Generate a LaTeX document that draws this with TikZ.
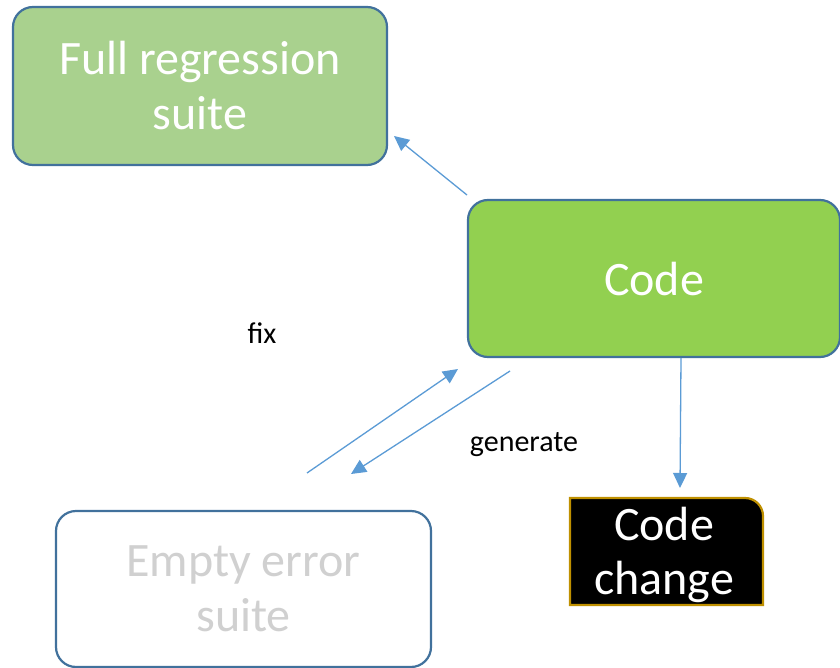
\documentclass[tikz,border=0pt]{standalone}
\usepackage{fontspec}
\setmainfont{Carlito}
\usetikzlibrary{arrows.meta}
\definecolor{boxline}{HTML}{41719C}
\definecolor{lightgreen}{HTML}{A9D18E}
\definecolor{brightgreen}{HTML}{92D050}
\definecolor{arrowblue}{HTML}{5B9BD5}
\definecolor{gold}{HTML}{BF9000}
\definecolor{fadedtext}{HTML}{D0D0D0}
\tikzset{
  roundbox/.style={draw=boxline, line width=2.2pt, rounded corners=20pt,
    align=center, inner sep=0pt, font=\fontsize{48}{55}\selectfont},
  flow/.style={draw=arrowblue, line width=1.3pt,
    -{Triangle[length=15pt,width=14pt]}},
  lbl/.style={font=\fontsize{30}{34}\selectfont, inner sep=0pt}
}
\begin{document}
\begin{tikzpicture}[x=1pt,y=-1pt]
  \useasboundingbox (0,0) rectangle (840,668);

  % boxes
  \node[roundbox, fill=lightgreen, text=white, minimum width=374pt, minimum height=158pt]
    (full) at (200,86) {Full regression\\suite};
  \node[roundbox, fill=brightgreen, text=white, minimum width=372pt, minimum height=157pt]
    (code) at (654,278.5) {Code};
  \node[roundbox, fill=white, text=fadedtext, minimum width=375pt, minimum height=156pt]
    (empty) at (243.5,589) {Empty error\\suite};

  % black box with a single rounded corner
  \draw[draw=gold, fill=black, line width=2.2pt]
    (570,498) -- (745,498) [rounded corners=18pt] -- (763,498) [sharp corners] -- (763,605) -- (570,605) -- cycle;
  \node[align=center, text=white, inner sep=0pt, font=\fontsize{48}{54}\selectfont]
    (change) at (664,555) {Code\\change};

  % connector ends
  \coordinate (a1s) at (467,195);
  \coordinate (a1e) at (394,136);
  \coordinate (a2s) at (307,473);
  \coordinate (a2e) at (458,369);
  \coordinate (a3s) at (510,371);
  \coordinate (a3e) at (351,474);
  \coordinate (a4s) at (681,358);
  \coordinate (a4e) at (680,488);

  \draw[flow] (a1s) -- (a1e);
  \draw[flow] (a2s) -- (a2e);
  \draw[flow] (a3s) -- (a3e);
  \draw[flow] (a4s) -- (a4e);

  % labels
  \node[lbl] (fix) at (262,333) {fix};
  \node[lbl] (gen) at (524,445) {generate};
\end{tikzpicture}
\end{document}
